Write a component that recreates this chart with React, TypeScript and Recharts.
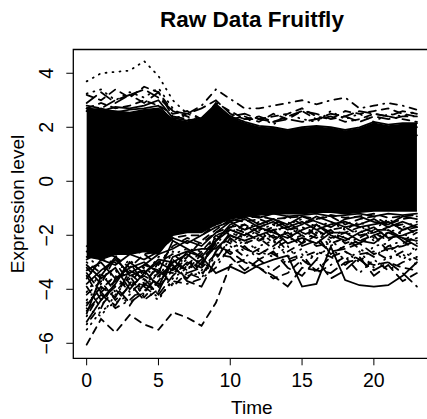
import React from "react";
import { ComposedChart, Line, Area, XAxis, YAxis, ReferenceArea } from "recharts";

const times = [0,1,2,3,4,5,6,7,8,9,10,11,12,13,14,15,16,17,18,19,20,21,22,23];
const xTicks = [0, 5, 10, 15, 20];
const yTicks = [-6, -4, -2, 0, 2, 4];

const bandHigh = [2.7,2.65,2.6,2.55,2.65,2.7,2.3,2.2,2.3,2.8,2.35,2.15,2.0,1.95,1.85,1.95,2.0,1.95,1.85,1.95,2.15,2.05,2.1,2.1];
const bandLow = [-2.8,-2.9,-2.7,-2.7,-2.6,-2.7,-2.0,-1.9,-1.9,-1.6,-1.4,-1.3,-1.25,-1.2,-1.2,-1.2,-1.15,-1.15,-1.2,-1.15,-1.1,-1.1,-1.1,-1.1];

const upperLines = [
  [2.7,2.6,2.75,2.7,2.8,3.0,2.35,2.25,2.35,2.85,2.4,2.2,2.05,2.0,1.9,2.0,2.05,2.0,1.9,2.0,2.2,2.1,2.15,2.15],
  [2.9,3.3,2.9,3.2,3.4,3.1,2.6,2.5,2.7,3.0,2.5,2.3,2.4,2.2,2.3,2.2,2.3,2.5,2.4,2.2,2.4,2.3,2.4,2.4],
  [3.2,3.0,3.4,3.1,3.5,3.3,2.6,2.4,2.2,2.9,2.6,2.3,2.3,2.4,2.5,2.7,2.4,2.3,2.6,2.5,2.6,2.7,2.5,2.4],
  [3.7,4.0,4.05,4.1,4.45,3.9,3.0,2.5,2.3,2.6,2.2,2.0,1.9,1.8,1.7,1.8,1.9,1.8,1.7,1.8,1.9,1.8,1.8,1.7],
  [2.6,2.5,2.4,2.5,2.5,2.4,2.3,2.5,2.8,3.4,3.05,2.7,2.7,2.8,2.9,3.0,2.85,3.0,3.1,2.7,2.8,2.9,2.8,2.65],
  [2.6,2.7,2.55,2.65,2.7,2.8,2.25,2.15,2.25,2.75,2.3,2.1,1.95,1.9,1.85,1.9,1.95,1.9,1.8,1.9,2.1,2.0,2.05,2.0],
  [2.8,2.7,3.0,3.2,2.9,3.3,2.4,2.3,2.2,2.6,2.4,2.5,2.3,2.2,2.4,2.6,2.5,2.3,2.4,2.6,2.5,2.4,2.6,2.5],
  [2.7,2.9,2.7,2.8,3.0,2.8,2.5,2.6,2.3,2.5,2.3,2.4,2.2,2.5,2.3,2.6,2.3,2.4,2.2,2.3,2.5,2.4,2.3,2.2],
  [3.25,3.4,3.0,3.3,3.1,3.45,2.7,2.3,2.2,2.4,2.3,2.2,2.4,2.1,2.5,2.3,2.2,2.6,2.3,2.5,2.2,2.5,2.4,2.6],
];

const lowerLines = [
  [-3.3,-3.0,-3.6,-3.2,-3.0,-3.4,-2.2,-2.5,-2.8,-3.4,-3.16,-3.41,-3.1,-2.9,-2.75,-3.9,-3.8,-2.42,-3.66,-3.85,-3.9,-3.85,-3.5,-3.0],
  [-6.05,-5.1,-5.6,-4.95,-5.3,-5.5,-4.85,-5.05,-5.35,-4.5,-3.1,-2.9,-3.2,-3.6,-3.4,-2.9,-3.3,-2.8,-2.6,-2.9,-3.1,-3.0,-3.2,-3.3],
  [-4.8,-4.2,-4.6,-3.8,-4.4,-4.0,-3.2,-3.6,-3.0,-2.4,-2.6,-3.0,-3.2,-3.5,-3.9,-3.2,-3.3,-3.4,-3.0,-2.9,-3.3,-3.0,-3.4,-3.9],
  [-5.5,-4.8,-4.5,-4.2,-3.6,-3.9,-3.3,-3.5,-3.4,-3.0,-2.5,-2.2,-2.6,-2.8,-2.4,-3.1,-2.7,-2.5,-2.9,-2.6,-3.2,-2.8,-2.7,-3.1],
  [-4.5,-4.0,-3.5,-4.1,-3.7,-3.2,-3.9,-3.4,-3.6,-2.6,-2.0,-2.3,-2.1,-2.5,-2.2,-2.0,-2.4,-2.3,-2.1,-2.5,-2.8,-2.4,-2.2,-2.6],
  [-5.2,-4.4,-3.8,-3.0,-3.4,-2.9,-3.0,-2.7,-3.1,-2.2,-1.8,-2.0,-1.7,-1.9,-2.1,-1.8,-1.6,-2.0,-2.2,-1.9,-1.7,-2.1,-2.0,-1.8],
  [-3.9,-4.7,-3.6,-3.4,-3.9,-3.0,-2.7,-3.1,-2.6,-2.0,-2.3,-1.9,-2.2,-2.0,-2.6,-2.3,-2.0,-2.7,-2.4,-2.2,-2.0,-2.6,-2.3,-2.1],
  [-4.1,-3.4,-3.9,-3.6,-3.2,-3.6,-2.6,-2.9,-3.3,-2.8,-2.2,-2.6,-2.4,-2.2,-2.8,-2.5,-2.9,-2.2,-2.6,-3.0,-2.4,-2.3,-2.9,-2.5],
  [-3.0,-3.4,-4.1,-3.5,-4.3,-3.7,-2.9,-3.3,-2.9,-2.3,-2.7,-2.4,-2.9,-3.3,-2.9,-2.7,-3.4,-3.1,-2.8,-3.4,-2.9,-3.3,-3.0,-2.8],
  [-4.6,-3.9,-4.3,-3.3,-3.6,-4.2,-3.5,-3.0,-3.2,-2.7,-2.8,-3.3,-2.9,-2.6,-3.2,-3.5,-2.9,-3.6,-3.3,-2.8,-3.5,-3.1,-3.7,-3.4],
  [-3.6,-2.9,-3.1,-2.7,-2.9,-2.6,-2.1,-2.3,-2.0,-1.7,-1.5,-1.8,-1.6,-1.4,-1.7,-1.5,-1.8,-1.6,-1.5,-1.7,-1.6,-1.5,-1.8,-1.6],
  [-3.2,-3.8,-2.8,-3.2,-2.7,-3.1,-2.4,-2.1,-2.3,-1.9,-1.7,-1.6,-1.9,-1.7,-1.5,-1.9,-2.1,-1.8,-1.7,-2.0,-1.9,-1.7,-1.6,-2.0],
  [-2.8,-3.2,-3.4,-2.9,-3.5,-2.8,-2.7,-2.5,-2.6,-2.1,-1.9,-2.1,-1.8,-2.3,-1.9,-2.2,-1.9,-2.4,-2.0,-1.8,-2.2,-2.0,-1.9,-2.3],
  [-5.0,-4.1,-4.7,-4.4,-3.9,-4.3,-3.7,-3.8,-3.6,-3.2,-2.4,-2.8,-2.5,-2.7,-3.0,-2.8,-2.6,-2.8,-3.1,-2.7,-2.6,-2.9,-2.6,-2.9],
  [-3.5,-4.4,-3.9,-4.5,-4.1,-3.5,-3.1,-3.7,-3.9,-2.9,-2.1,-2.5,-2.7,-2.4,-2.0,-2.4,-2.2,-2.6,-2.5,-2.3,-2.7,-2.5,-2.4,-2.2],
  [-4.9,-3.5,-2.8,-3.5,-3.3,-3.9,-2.8,-2.6,-2.5,-2.5,-2.0,-2.2,-2.0,-1.8,-2.3,-2.1,-2.3,-1.9,-1.9,-2.2,-2.3,-1.9,-2.1,-2.4],
  [-2.6,-2.9,-3.0,-3.8,-3.1,-3.3,-3.4,-2.8,-2.2,-1.8,-1.4,-1.5,-1.4,-1.6,-1.3,-1.6,-1.4,-1.3,-1.6,-1.4,-1.3,-1.6,-1.4,-1.3],
  [-4.4,-3.8,-3.3,-3.7,-4.0,-4.4,-3.6,-3.2,-3.0,-2.4,-1.6,-1.8,-1.5,-1.9,-1.6,-1.4,-1.7,-1.5,-1.8,-1.5,-1.8,-1.4,-1.7,-1.5],
  [-3.8,-3.3,-2.9,-3.4,-3.1,-2.7,-2.5,-2.2,-2.4,-1.9,-1.5,-1.3,-1.6,-1.4,-1.6,-1.3,-1.5,-1.7,-1.4,-1.3,-1.5,-1.6,-1.3,-1.4],
  [-4.2,-3.7,-4.4,-3.9,-3.5,-3.8,-3.0,-3.3,-2.7,-2.2,-1.7,-1.9,-2.2,-1.8,-1.7,-2.0,-1.8,-2.1,-1.9,-1.7,-1.9,-2.2,-1.8,-1.7],
  [-5.3,-4.6,-4.0,-4.6,-3.8,-3.4,-3.2,-2.9,-3.5,-2.6,-1.9,-1.6,-2.0,-2.2,-1.8,-1.7,-2.0,-1.8,-2.3,-2.1,-1.8,-1.8,-2.2,-1.9],
  [-3.4,-4.1,-3.7,-3.0,-3.8,-4.1,-2.9,-3.4,-3.2,-2.0,-1.8,-2.0,-1.7,-2.1,-1.9,-2.3,-1.6,-1.9,-2.1,-2.3,-2.0,-1.8,-2.1,-2.2],
  [-4.7,-5.0,-4.2,-3.6,-4.2,-3.3,-3.8,-3.1,-2.9,-2.3,-2.2,-1.7,-1.8,-1.6,-2.0,-1.7,-1.9,-2.2,-1.7,-1.6,-2.1,-1.9,-1.7,-1.9],
  [-3.1,-3.6,-3.2,-4.0,-3.4,-3.0,-3.3,-2.6,-2.8,-2.2,-1.6,-1.4,-1.7,-1.5,-1.8,-1.6,-1.3,-1.5,-1.7,-1.6,-1.4,-1.7,-1.5,-1.7],
  [-2.4,-2.7,-2.5,-2.6,-2.4,-2.5,-1.9,-1.8,-1.8,-1.5,-1.3,-1.25,-1.35,-1.2,-1.3,-1.25,-1.2,-1.3,-1.25,-1.2,-1.3,-1.2,-1.25,-1.2],
  [-2.9,-2.6,-2.8,-2.5,-2.7,-2.6,-2.1,-2.0,-2.0,-1.6,-1.45,-1.35,-1.3,-1.4,-1.35,-1.3,-1.4,-1.25,-1.35,-1.3,-1.2,-1.35,-1.3,-1.25],
];

// line types (R lty): 0 solid, 1 dashed, 2 dotted, 3 dotdash, 4 longdash
const upperLty = [0, 4, 1, 2, 3, 0, 4, 1, 2];
const lowerLty = [0, 1, 4, 2, 3, 0, 1, 2, 3, 4, 0, 1, 2, 3, 4, 0, 1, 2, 0, 1, 3, 4, 2, 0, 0, 1];
const DASH = ["", "7 6", "1 6", "1 6 7 6", "12 6"];
const FONT = "'Liberation Sans', Arial, Helvetica, sans-serif";

const allLines = [...upperLines, ...lowerLines];
const allLty = [...upperLty, ...lowerLty];

const data = times.map((t, i) => {
  const row: any = { t, band: [bandLow[i], bandHigh[i]] };
  allLines.forEach((l, k) => { row["l" + k] = l[i]; });
  return row;
});

const fmt = (v: number) => (v < 0 ? "\u2212" + Math.abs(v) : String(v));

const XTick = (p: any) => (
  <text x={p.x} y={387} textAnchor="middle" fontSize={19.5} fontFamily={FONT} fill="#000">{p.payload.value}</text>
);
const YTick = (p: any) => (
  <text x={53} y={p.y} transform={`rotate(-90 53 ${p.y})`} textAnchor="middle" fontSize={19.5} fontFamily={FONT} fill="#000">{fmt(p.payload.value)}</text>
);

export default function App() {
  return (
    <div style={{ position: "absolute", left: 0, top: 0, width: 427, height: 419, overflow: "hidden", background: "#fff" }}>
      <ComposedChart width={440} height={419} data={data} margin={{ top: 49.5, right: 9.7, left: 0, bottom: 0 }}>
        <XAxis dataKey="t" type="number" domain={[-0.93, 23.93]} ticks={xTicks} allowDataOverflow height={60.7}
          axisLine={false} tickLine={{ stroke: "#000", strokeWidth: 1 }} tickSize={7} tick={<XTick />} />
        <YAxis type="number" domain={[-6.556, 4.88]} ticks={yTicks} allowDataOverflow width={73.3}
          axisLine={false} tickLine={{ stroke: "#000", strokeWidth: 1 }} tickSize={7} tick={<YTick />} />
        <Area dataKey="band" type="linear" stroke="#000" strokeWidth={1.5} fill="#000" fillOpacity={1} isAnimationActive={false} dot={false} activeDot={false} />
        {allLines.map((_, k) => (
          <Line key={k} dataKey={"l" + k} type="linear" stroke="#000" strokeWidth={1.8}
            strokeDasharray={DASH[allLty[k]]} strokeLinecap="round" dot={false} activeDot={false} isAnimationActive={false} />
        ))}
        <ReferenceArea x1={-0.93} x2={23.93} y1={-6.556} y2={4.88} fill="none" stroke="#000" strokeWidth={1.3} ifOverflow="visible" />
      </ComposedChart>
      <svg width={427} height={419} style={{ position: "absolute", left: 0, top: 0, pointerEvents: "none" }}>
        <text x={252} y={27} textAnchor="middle" fontSize={22.5} fontWeight="bold" fontFamily={FONT} fill="#000">Raw Data Fruitfly</text>
        <text x={251.8} y={414} textAnchor="middle" fontSize={19} fontFamily={FONT} fill="#000">Time</text>
        <text x={23.5} y={204} transform="rotate(-90 23.5 204)" textAnchor="middle" fontSize={19} fontFamily={FONT} fill="#000">Expression level</text>
      </svg>
    </div>
  );
}
